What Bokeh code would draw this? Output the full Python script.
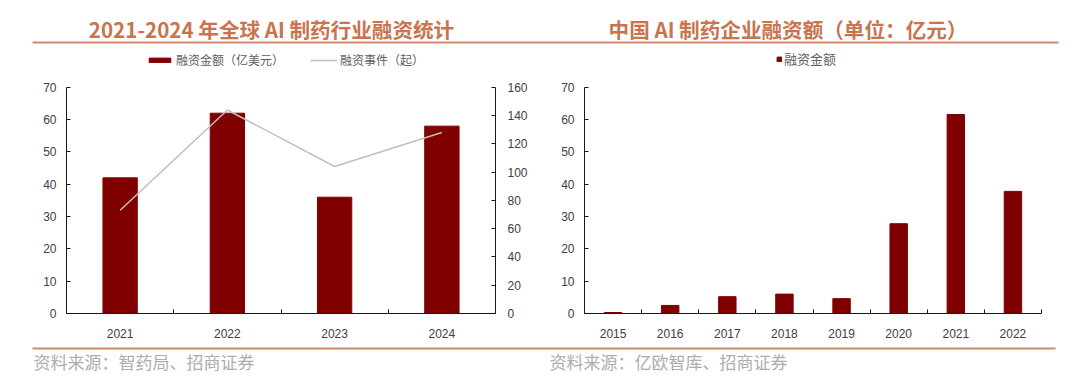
from bokeh.plotting import figure
from bokeh.models import (Range1d, LinearAxis, FixedTicker, Legend, LegendItem,
                          ColumnDataSource)
from bokeh.layouts import row, column
from bokeh.embed import file_html
from bokeh.resources import INLINE
from bokeh.core.properties import value

# ---------------- data ----------------
global_years = ["2021", "2022", "2023", "2024"]
global_amount = [42, 62, 36, 58]          # 融资金额（亿美元）
global_events = [73, 144, 104, 128]       # 融资事件（起）
china_years = ["2015", "2016", "2017", "2018", "2019", "2020", "2021", "2022"]
china_amount = [0.3, 2.5, 5.2, 6.0, 4.6, 27.8, 61.6, 37.8]   # 融资金额（亿元）
left_ticks = [0, 10, 20, 30, 40, 50, 60, 70]
right_ticks = [0, 20, 40, 60, 80, 100, 120, 140, 160]

title1 = "2021-2024 年全球 AI 制药行业融资统计"
title2 = "中国 AI 制药企业融资额（单位：亿元）"
source1 = "资料来源：智药局、招商证券"
source2 = "资料来源：亿欧智库、招商证券"

# ---------------- style ----------------
BAR = "#800000"
LINE = "#BFBFBF"
ORANGE_T = "#C9744F"
ORANGE_L = "#D4876A"
AXIS = "#1a1a1a"
TICK_TXT = "#404040"
NUM_FONT = "Liberation Sans"
CJK = "Noto Sans CJK SC"

TOTAL_W = 1064
HEAD_H = 50
MAIN_H = 290
FOOT_H = 44
W1 = 548
W2 = TOTAL_W - W1
FL1, FR1 = 66, 53
FL2, FR2 = 36, 23
FBB = 26
# page pixel rows: axis top (value max) at 87, axis bottom at 314, frame top at HEAD_H
AX_TOP, AX_BOT = 87, 314
LEFT_MAX, RIGHT_MAX = 70, 160
stretch = (AX_BOT - HEAD_H) / (AX_BOT - AX_TOP)


def blank_fig(w, h, y0, y1):
    f = figure(width=w, height=h, output_backend="svg", toolbar_location=None,
               x_range=Range1d(0, w), y_range=Range1d(y1, y0),
               min_border=0, x_axis_location=None, y_axis_location=None)
    f.outline_line_color = None
    f.xgrid.visible = False
    f.ygrid.visible = False
    return f


def style_axes(p):
    for ax in p.xaxis + p.yaxis:
        ax.axis_line_color = AXIS
        ax.axis_line_width = 1
        ax.major_label_text_font = NUM_FONT
        ax.major_label_text_font_size = "12px"
        ax.major_label_text_color = TICK_TXT
    for ax in p.yaxis:
        ax.major_tick_in = 4
        ax.major_tick_out = 0
        ax.major_tick_line_color = AXIS
        ax.minor_tick_line_color = None
        ax.major_label_standoff = 10
    for ax in p.xaxis:
        ax.major_tick_line_color = None
        ax.minor_tick_in = 4
        ax.minor_tick_out = 0
        ax.minor_tick_line_color = AXIS
        ax.major_label_standoff = 9


def make_fig(w, fl, fr, n):
    p = figure(width=w, height=MAIN_H, output_backend="svg", toolbar_location=None,
               x_range=Range1d(0, n), y_range=Range1d(0, LEFT_MAX * stretch),
               min_border_left=fl, min_border_right=fr,
               min_border_top=0, min_border_bottom=FBB)
    p.outline_line_color = None
    p.xgrid.visible = False
    p.ygrid.visible = False
    return p


# ---------------- header (titles + rule) ----------------
head = blank_fig(TOTAL_W, HEAD_H, 0, HEAD_H)
head.text(x=[271, 787.5], y=[28, 28], text=[title1, title2],
          text_align="center", text_baseline="middle",
          text_font=value(CJK), text_font_style="bold", text_font_size="20.6px",
          text_color=ORANGE_T)
head.segment(x0=[32], y0=[42], x1=[1058], y1=[42], line_color=ORANGE_L, line_width=2)

# ---------------- left chart ----------------
n1 = len(global_years)
x1 = [i + 0.5 for i in range(n1)]
src1 = ColumnDataSource(dict(x=x1, amount=global_amount, events=global_events))
p1 = make_fig(W1, FL1, FR1, n1)
p1.extra_y_ranges = {"cnt": Range1d(0, RIGHT_MAX * stretch)}
p1.add_layout(LinearAxis(y_range_name="cnt"), "right")
bars1 = p1.vbar(x="x", top="amount", width=0.32, source=src1,
                fill_color=BAR, line_color=BAR)
line1 = p1.line(x="x", y="events", source=src1, y_range_name="cnt",
                line_color=LINE, line_width=1.5)
p1.xaxis.ticker = FixedTicker(ticks=x1, minor_ticks=list(range(n1 + 1)))
p1.xaxis.major_label_overrides = {x: y for x, y in zip(x1, global_years)}
p1.yaxis[0].ticker = FixedTicker(ticks=left_ticks)
p1.yaxis[0].bounds = (0, LEFT_MAX)
p1.yaxis[1].ticker = FixedTicker(ticks=right_ticks)
p1.yaxis[1].bounds = (0, RIGHT_MAX)
style_axes(p1)
p1.yaxis[1].major_label_standoff = 12

leg1 = Legend(items=[LegendItem(label="融资金额（亿美元）", renderers=[bars1]),
                     LegendItem(label="融资事件（起）", renderers=[line1])],
              orientation="horizontal", location=(146 - FL1, AX_BOT - 69),
              glyph_width=27, glyph_height=6, label_height=14, label_standoff=3,
              spacing=26, padding=0, margin=0, border_line_color=None,
              background_fill_alpha=0, label_text_font=CJK,
              label_text_font_size="12px", label_text_color="#606060")
p1.add_layout(leg1, "center")

# ---------------- right chart ----------------
n2 = len(china_years)
x2 = [i + 0.5 for i in range(n2)]
src2 = ColumnDataSource(dict(x=x2, amount=china_amount))
p2 = make_fig(W2, FL2, FR2, n2)
bars2 = p2.vbar(x="x", top="amount", width=0.305, source=src2,
                fill_color=BAR, line_color=BAR)
p2.xaxis.ticker = FixedTicker(ticks=x2, minor_ticks=list(range(n2 + 1)))
p2.xaxis.major_label_overrides = {x: y for x, y in zip(x2, china_years)}
p2.yaxis.ticker = FixedTicker(ticks=left_ticks)
p2.yaxis.bounds = (0, LEFT_MAX)
style_axes(p2)

leg2 = Legend(items=[LegendItem(label="融资金额", renderers=[bars2])],
              orientation="horizontal", location=(776 - (W1 + FL2), AX_BOT - 69),
              glyph_width=6, glyph_height=6, label_height=14, label_standoff=2,
              padding=0, margin=0, border_line_color=None,
              background_fill_alpha=0, label_text_font=CJK,
              label_text_font_size="13px", label_text_color="#606060")
p2.add_layout(leg2, "center")

# ---------------- footer (rule + sources) ----------------
foot_top = HEAD_H + MAIN_H
foot = blank_fig(TOTAL_W, FOOT_H, foot_top, foot_top + FOOT_H)
foot.segment(x0=[32], y0=[348], x1=[1055], y1=[348], line_color=ORANGE_L, line_width=2)
foot.text(x=[33, 549], y=[361, 361], text=[source1, source2],
          text_align="left", text_baseline="middle",
          text_font=value(CJK), text_font_size="17px", text_color="#ADADAD")

layout = column(head, row(p1, p2), foot)
open("out.html", "w").write(file_html(layout, INLINE))
